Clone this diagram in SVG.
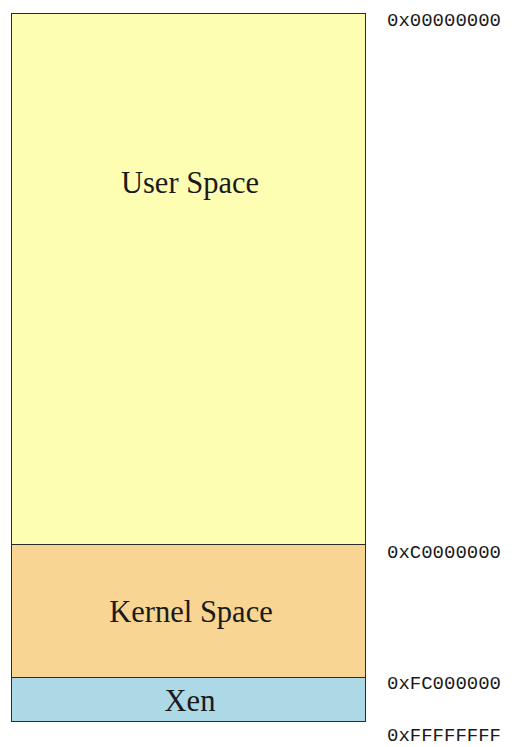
<svg xmlns="http://www.w3.org/2000/svg" width="516" height="747" viewBox="0 0 516 747">
  <style>
    .seg { stroke: #2b2b2b; stroke-width: 1; }
    .name { font-family: "Liberation Serif", "DejaVu Serif", serif; font-size: 30.5px; fill: #1a1a1a; text-anchor: middle; }
    .addr { font-family: "Liberation Mono", "DejaVu Sans Mono", monospace; font-size: 19px; fill: #1a1a1a; }
  </style>
  <rect width="516" height="747" fill="#ffffff"/>

  <!-- address-space segments -->
  <g id="user-space">
    <rect class="seg" x="11.5" y="13.5" width="354" height="531" fill="#FEFEB3"/>
    <text class="name" x="190" y="193">User Space</text>
  </g>
  <g id="kernel-space">
    <rect class="seg" x="11.5" y="544.5" width="354" height="133" fill="#F8D592"/>
    <text class="name" x="191" y="622">Kernel Space</text>
  </g>
  <g id="xen">
    <rect class="seg" x="11.5" y="677.5" width="354" height="44" fill="#ADD8E6"/>
    <text class="name" x="190" y="711">Xen</text>
  </g>

  <!-- boundary addresses -->
  <g id="addresses">
    <text class="addr" x="387" y="26">0x00000000</text>
    <text class="addr" x="387" y="558">0xC0000000</text>
    <text class="addr" x="387" y="689">0xFC000000</text>
    <text class="addr" x="387" y="741">0xFFFFFFFF</text>
  </g>
</svg>
